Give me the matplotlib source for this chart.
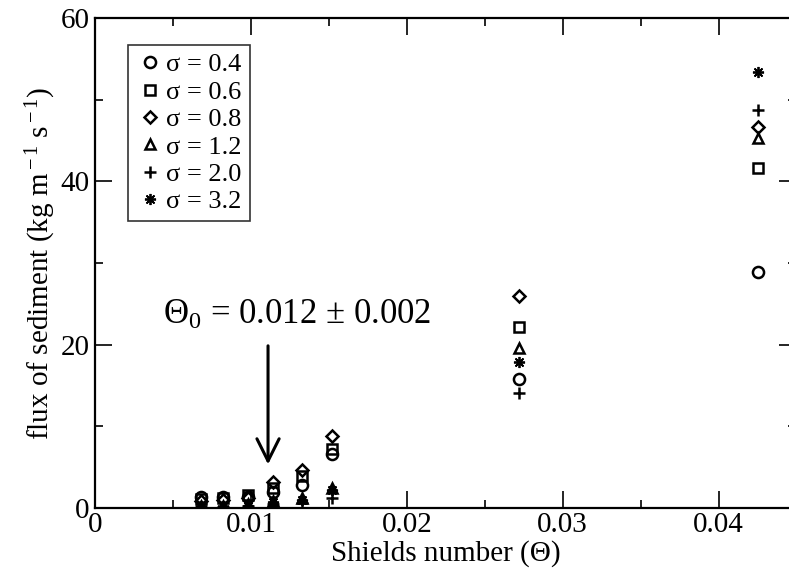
import numpy as np
import matplotlib
matplotlib.use("Agg")
import matplotlib.pyplot as plt
from matplotlib.ticker import MultipleLocator

plt.rcParams['font.family'] = ['Liberation Serif', 'DejaVu Serif']
plt.rcParams['mathtext.fontset'] = 'custom'
plt.rcParams['mathtext.rm'] = 'Liberation Serif'
plt.rcParams['mathtext.it'] = 'Liberation Serif:italic'

# Shields number for each run
shields = [0.0068, 0.0082, 0.0098, 0.0114, 0.0133, 0.0152, 0.0272, 0.0425]

# sediment flux per sigma
flux_04 = [1.4, 1.3, 1.4, 2.0, 2.8, 6.6, 15.8, 28.9]
flux_06 = [1.1, 1.2, 1.6, 2.4, 3.9, 7.2, 22.2, 41.6]
flux_08 = [0.9, 1.0, 1.2, 3.2, 4.6, 8.8, 25.9, 46.7]
flux_12 = [0.3, 0.3, 0.5, 0.8, 1.2, 2.4, 19.6, 45.3]
flux_20 = [0.1, 0.1, 0.2, 0.5, 0.6, 1.2, 14.1, 48.7]
flux_32 = [0.2, 0.2, 0.3, 0.7, 1.0, 2.2, 17.9, 53.4]

labels = ['σ = 0.4', 'σ = 0.6', 'σ = 0.8', 'σ = 1.2', 'σ = 2.0', 'σ = 3.2']
series = [flux_04, flux_06, flux_08, flux_12, flux_20, flux_32]
markers = ['o', 's', 'D', '^', '+', (8, 2, 0)]
msizes = [8, 7, 6, 7.5, 9, 8]
mews = [1.8, 1.8, 1.8, 1.8, 1.8, 1.3]

fig = plt.figure(figsize=(7.89, 5.73), dpi=100)
ax = fig.add_axes([0.1204, 0.1134, 0.8891, 0.8552])

for y, lab, m, ms, mw in zip(series, labels, markers, msizes, mews):
    ax.plot(shields, y, linestyle='none', marker=m, markersize=ms,
            markerfacecolor='none', markeredgecolor='black',
            markeredgewidth=mw, color='black', label=lab)

ax.set_xlim(0, 0.045)
ax.set_ylim(0, 60)
ax.xaxis.set_major_locator(MultipleLocator(0.01))
ax.xaxis.set_minor_locator(MultipleLocator(0.005))
ax.yaxis.set_major_locator(MultipleLocator(20))
ax.yaxis.set_minor_locator(MultipleLocator(10))
ax.set_xticks([0, 0.01, 0.02, 0.03, 0.04])
ax.set_xticklabels(['0', '0.01', '0.02', '0.03', '0.04'])

ax.tick_params(which='both', direction='in', top=True, right=True,
               labelsize=21, width=1.2)
ax.tick_params(which='major', length=12, pad=3)
ax.tick_params(which='minor', length=6)
ax.tick_params(axis='y', which='major', pad=4)
for sp in ax.spines.values():
    sp.set_linewidth(1.6)

ax.set_xlabel('Shields number (Θ)', fontsize=21, labelpad=1)
ax.set_ylabel('flux of sediment (kg m$^{\\rm -1}$ s$^{\\rm -1}$)',
              fontsize=21, labelpad=2)

ax.annotate('', xy=(0.0111, 5.0), xytext=(0.0111, 20.2),
            arrowprops=dict(arrowstyle='->', lw=2.2, color='black',
                            mutation_scale=40))
ax.text(0.01295, 23.6, 'Θ$_{\\rm 0}$ = 0.012 ± 0.002', fontsize=25,
        ha='center', va='center')

leg = ax.legend(loc='upper left', bbox_to_anchor=(0.047, 0.945),
                fontsize=19, frameon=True, fancybox=False,
                handletextpad=0.05, labelspacing=0.15, borderpad=0.3,
                handlelength=1.1, borderaxespad=0)
leg.get_frame().set_edgecolor('black')
leg.get_frame().set_linewidth(1.2)

fig.savefig('out.png', dpi=100)
